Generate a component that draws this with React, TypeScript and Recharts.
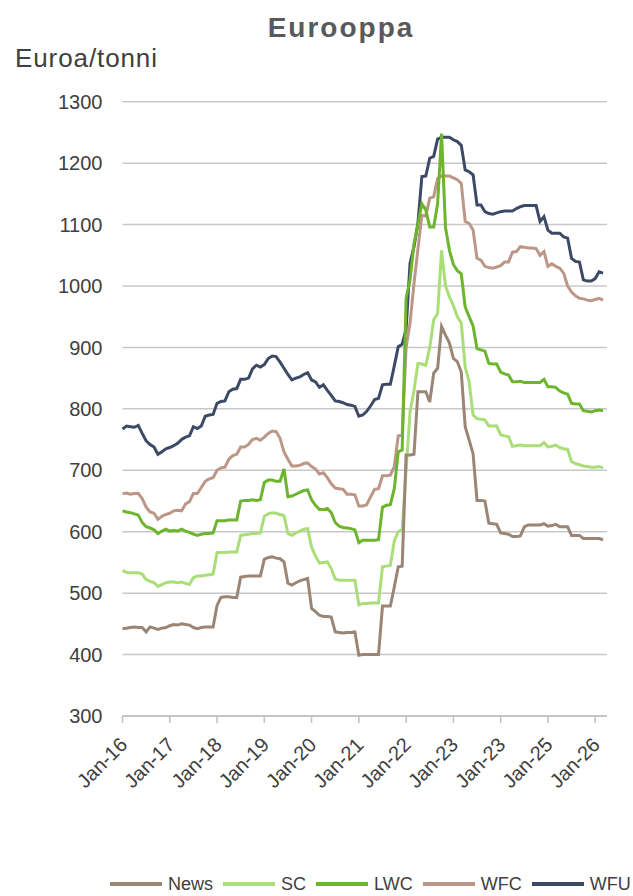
import React from "react";
import { LineChart, Line, XAxis, YAxis, CartesianGrid, Legend } from "recharts";

// Monthly prices, Jan-16 .. Mar-26 (EUR / tonne)
const news: number[] = [
  442, 443, 444, 445, 444, 444, 437, 445, 443, 441, 443, 444,
  447, 449, 448, 450, 449, 448, 444, 442, 444, 445, 445, 445,
  480, 493, 494, 494, 493, 493, 526, 527, 528, 528, 528, 528,
  555, 558, 559, 557, 556, 551, 516, 513, 517, 520, 522, 524,
  475, 470, 464, 462, 462, 461, 437, 436, 435, 436, 436, 437,
  399, 400, 400, 400, 400, 400, 479, 479, 479, 510, 543, 544,
  725, 725, 726, 828, 828, 828, 811, 858, 866, 934, 920, 907,
  882, 877, 860, 771, 749, 727, 651, 651, 650, 614, 613, 612,
  598, 597, 596, 592, 592, 593, 608, 611, 611, 611, 611, 613,
  609, 610, 612, 608, 608, 608, 594, 594, 594, 589, 589, 589,
  589, 589, 587,
];

const sc: number[] = [
  537, 534, 533, 533, 533, 531, 522, 519, 517, 511, 514, 517,
  518, 518, 517, 518, 516, 514, 525, 528, 528, 529, 530, 531,
  566, 566, 566, 567, 567, 567, 594, 595, 596, 597, 597, 598,
  625, 629, 631, 630, 628, 626, 597, 594, 598, 601, 604, 605,
  575, 560, 549, 550, 551, 540, 523, 521, 521, 521, 521, 521,
  481, 483, 483, 484, 484, 484, 543, 544, 545, 585, 600, 603,
  700, 795, 830, 874, 873, 871, 900, 945, 955, 1058, 1000, 982,
  968, 950, 940, 868, 844, 790, 784, 783, 782, 772, 772, 772,
  758, 756, 755, 739, 740, 741, 740, 740, 740, 740, 740, 745,
  738, 739, 741, 737, 735, 734, 714, 711, 709, 707, 706, 705,
  705, 706, 704,
];

const lwc: number[] = [
  634, 632, 631, 629, 627, 615, 608, 606, 603, 597, 601, 604,
  601, 602, 601, 604, 601, 599, 596, 594, 596, 597, 597, 598,
  618, 618, 618, 619, 619, 619, 650, 651, 651, 652, 651, 652,
  680, 684, 684, 682, 682, 702, 657, 658, 661, 664, 667, 668,
  652, 643, 636, 636, 638, 631, 615, 609, 607, 606, 605, 603,
  582, 586, 586, 586, 586, 587, 640, 643, 644, 670, 730, 733,
  980, 1010, 1069, 1100, 1134, 1124, 1096, 1096, 1134, 1248, 1095, 1058,
  1035, 1025, 1020, 966, 950, 935, 898, 896, 894, 874, 873, 873,
  860, 857, 855, 844, 844, 845, 843, 843, 843, 843, 843, 848,
  836, 836, 835, 829, 826, 824, 809, 808, 808, 797, 796, 795,
  797, 798, 797,
];

const wfc: number[] = [
  662, 663, 661, 662, 662, 654, 640, 632, 630, 620, 625, 628,
  630, 634, 635, 634, 645, 649, 662, 662, 672, 682, 686, 688,
  700, 704, 705, 718, 724, 726, 738, 738, 742, 750, 752, 749,
  754, 760, 764, 763, 752, 730, 718, 707, 707, 708, 711, 712,
  706, 702, 694, 696, 688, 678, 671, 670, 669, 661, 661, 660,
  642, 642, 644, 657, 669, 670, 691, 691, 692, 706, 756, 757,
  900, 940, 1004, 1060, 1115, 1114, 1143, 1145, 1175, 1179, 1179, 1179,
  1176, 1173, 1167, 1105, 1102, 1091, 1045, 1042, 1032, 1030, 1029, 1031,
  1033, 1039, 1039, 1055, 1056, 1064, 1063, 1062, 1062, 1061, 1050, 1056,
  1032, 1036, 1032, 1029, 1021, 1000, 990, 984, 980, 979, 977, 976,
  978, 980, 977,
];

const wfu: number[] = [
  767, 772, 771, 770, 773, 760, 748, 742, 738, 726, 730, 735,
  737, 740, 744, 750, 754, 756, 771, 768, 772, 788, 790, 791,
  809, 812, 813, 828, 832, 833, 848, 848, 850, 865, 871, 868,
  872, 882, 886, 885, 876, 866, 856, 847, 850, 852, 856, 859,
  847, 844, 835, 839, 830, 822, 813, 812, 810, 807, 806, 804,
  788, 790, 796, 805, 815, 817, 839, 840, 840, 870, 901, 905,
  930, 1037, 1064, 1102, 1178, 1179, 1208, 1211, 1239, 1242, 1242, 1242,
  1238, 1235, 1229, 1189, 1186, 1181, 1132, 1132, 1121, 1118, 1117, 1119,
  1121, 1122, 1122, 1122, 1126, 1129, 1131, 1131, 1131, 1131, 1105, 1113,
  1091, 1086, 1086, 1086, 1080, 1078, 1045, 1040, 1039, 1010, 1008, 1008,
  1012, 1023, 1021,
];

const xTickPositions: number[] = [0, 12, 24, 36, 48, 60, 72, 84, 96, 108, 120];
const xTickLabels: string[] = [
  "Jan-16", "Jan-17", "Jan-18", "Jan-19", "Jan-20", "Jan-21",
  "Jan-22", "Jan-23", "Jan-23", "Jan-25", "Jan-26",
];
const yTicks: number[] = [300, 400, 500, 600, 700, 800, 900, 1000, 1100, 1200, 1300];

const seriesNames: string[] = ["News", "SC", "LWC", "WFC", "WFU"];
const seriesColors: string[] = ["#9b8676", "#aade78", "#6cb52d", "#bc9686", "#3c4a66"];
const seriesValues: number[][] = [news, sc, lwc, wfc, wfu];

const data = news.map((_, i) => {
  const row: Record<string, number> = { i };
  seriesNames.forEach((n, k) => {
    row[n] = seriesValues[k][i];
  });
  return row;
});

const FONT = "'Liberation Sans', Arial, sans-serif";

const XTick = (props: any) => {
  const { x, y, payload } = props;
  const idx = xTickPositions.indexOf(payload.value);
  const label = idx >= 0 ? xTickLabels[idx] : "";
  const ax = x + 6;
  const ay = y + 21;
  return (
    <text
      x={ax}
      y={ay}
      transform={`rotate(-45 ${ax} ${ay})`}
      textAnchor="end"
      fontSize={20}
      fontFamily={FONT}
      fill="#404040"
    >
      {label}
    </text>
  );
};

const LegendContent = () => (
  <div
    style={{
      display: "flex",
      alignItems: "center",
      paddingLeft: 110,
      height: 24,
      fontFamily: FONT,
      fontSize: 18,
      color: "#404040",
    }}
  >
    {seriesNames.map((n, k) => (
      <div key={n} style={{ display: "flex", alignItems: "center", marginRight: 10 }}>
        <span
          style={{
            display: "inline-block",
            width: 52,
            height: 3.5,
            background: seriesColors[k],
            marginRight: 6,
          }}
        />
        <span>{n}</span>
      </div>
    ))}
  </div>
);

export default function App() {
  const order = [4, 3, 2, 1, 0];
  return (
    <div style={{ position: "absolute", left: 0, top: 0, width: 633, height: 896, background: "#fff" }}>
      <LineChart
        width={633}
        height={896}
        data={data}
        margin={{ top: 101.7, right: 26, bottom: 0, left: 0 }}
      >
        <CartesianGrid horizontal vertical={false} stroke="#c8c8c8" strokeWidth={1.5} />
        <XAxis
          dataKey="i"
          type="number"
          domain={[0, 123]}
          ticks={xTickPositions}
          interval={0}
          height={180}
          tick={<XTick />}
          tickSize={7}
          tickMargin={2}
          stroke="#bfbfbf"
          strokeWidth={1.5}
          allowDecimals={false}
        />
        <YAxis
          type="number"
          domain={[300, 1300]}
          ticks={yTicks}
          interval={0}
          width={122.5}
          axisLine={false}
          tickLine={false}
          tickMargin={14}
          tick={{ fontSize: 20, fill: "#404040", fontFamily: FONT }}
        />
        <Legend
          layout="horizontal"
          verticalAlign="middle"
          align="center"
          wrapperStyle={{ top: 872, left: 0, width: 633, height: 24 }}
          content={<LegendContent />}
        />
        {order.map((k) => (
          <Line
            key={seriesNames[k]}
            type="linear"
            dataKey={seriesNames[k]}
            stroke={seriesColors[k]}
            strokeWidth={3}
            dot={false}
            activeDot={false}
            isAnimationActive={false}
          />
        ))}
      </LineChart>
      <svg
        width={633}
        height={120}
        style={{ position: "absolute", left: 0, top: 0, pointerEvents: "none" }}
      >
        <text
          x={341}
          y={37}
          textAnchor="middle"
          fontFamily={FONT}
          fontWeight="bold"
          fontSize={28}
          letterSpacing={2}
          fill="#595959"
        >
          Eurooppa
        </text>
        <text x={15} y={67} fontFamily={FONT} fontSize={26} letterSpacing={0.9} fill="#404040">
          Euroa/tonni
        </text>
      </svg>
    </div>
  );
}
